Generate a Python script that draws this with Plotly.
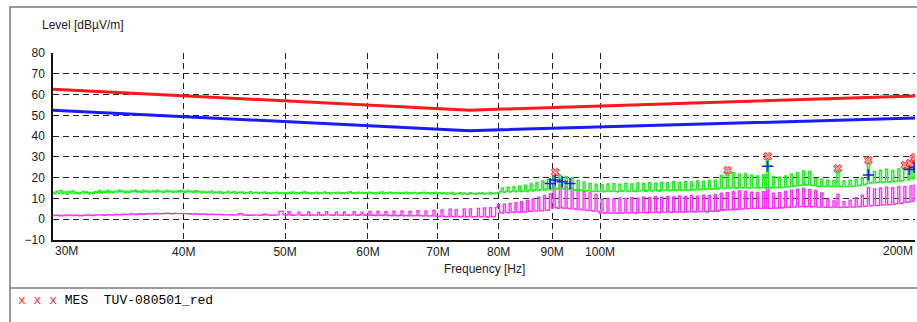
import numpy as np
import plotly.graph_objects as go

# ---------------- data ----------------
LIMIT_F = [30e6, 75e6, 200e6]
QP_LIMIT = [62.6, 52.5, 59.3]
AV_LIMIT = [52.5, 42.6, 48.7]

G_30_40 = [13.0,12.3,13.5,12.6,13.8,12.4,13.1,12.0,13.3,12.7,13.6,12.4,12.9,12.2,12.7,13.4,12.6,13.1,12.3,12.9,
           12.5,13.2,12.8,13.7,12.6,13.3,12.9,13.8,13.0,13.4,12.7,13.5,13.1,13.9,13.2,13.6,12.8,13.4,13.0,13.7,
           13.3,14.0,13.1,13.5,12.9,13.8,13.2,13.6,13.0,13.4,13.7,13.1,13.9,13.3,13.5,12.9,13.4,13.8,13.2,13.6,
           13.0,13.5,13.1,13.7,13.4]
G_40_50 = [13.6,13.0,13.8,13.2,13.5,12.9,13.7,13.1,13.4,12.8,13.3,12.7,13.2,12.9,13.5,12.6,13.1,12.8,13.4,12.5,
           13.0,12.7,13.3,12.6,12.9,13.2,12.5,13.0,12.7,13.1,12.4,12.9,12.6,13.2,12.5,12.8,13.0,12.4,12.9,12.6,
           13.1,12.5,12.8,12.3,12.9,12.6,13.0,12.4,12.8,12.6]
G_50_60 = [12.7,12.3,12.9,12.5,13.1,12.4,12.8,12.2,12.9,12.6,13.2,12.4,12.7,12.3,12.8,12.5,13.0,12.3,12.7,12.6,
           13.1,12.4,12.8,12.2,12.7,12.9,12.4,13.0,12.5,12.8,12.3,12.9,12.6,13.2,12.5,12.8,12.4,13.0,12.6,12.9,
           12.5,12.8]
G_60_70 = [12.6,13.0,12.4,12.8,12.2,12.9,12.5,13.1,12.3,12.7,12.6,13.0,12.4,12.8,12.5,12.9,12.2,12.7,12.5,13.0,
           12.3,12.8,12.4,12.9,12.6,12.3,12.8,12.5,13.0,12.4,12.7,12.3,12.8,12.5,12.9]
G_70_80 = [12.4,12.8,12.2,12.7,12.1,12.6,12.3,12.9,12.0,12.5,12.2,12.8,12.1,12.6,12.3,12.0,12.7,12.2,12.5,12.0,
           12.6,12.3,12.8,12.1,12.5,12.2,12.9,12.3,12.6,12.4]
G_80_90 = [12.8,13.3,15.0,13.0,13.4,15.4,13.1,13.5,15.6,13.2,13.6,16.0,13.3,13.7,16.4,13.4,13.8,17.0,13.6,14.0,
           17.6,13.8,14.3,18.4,14.0,14.5,19.2,14.2]
G_90_100 = [14.6,20.8,14.4,15.0,21.2,14.8,14.5,20.6,14.6,14.3,19.8,14.2,14.0,18.6,13.9,13.8,17.8,13.7,13.6,17.2,
            13.5,13.4,16.8,13.4]
G_100_130 = [13.3,16.6,13.2,13.5,16.9,13.3,13.6,17.1,13.4,13.2,16.8,13.5,13.7,17.3,13.4,13.6,17.0,13.5,13.3,17.4,
             13.6,13.8,17.2,13.5,13.7,17.6,13.6,13.9,17.3,13.7,13.5,17.8,13.8,14.0,17.5,13.7,13.9,18.0,13.8,14.1,
             17.7,13.9,14.2,18.2,14.0,13.8,17.9,14.1,14.3,18.4,14.2,14.4,18.1,14.3,14.5,18.6,14.4,14.6,18.8,14.5]
G_130_160 = [15.0,21.0,15.2,14.8,21.8,15.1,15.3,22.4,15.0,14.9,21.6,15.2,15.4,22.0,15.1,15.0,21.2,15.3,15.2,20.8,
             15.0,15.1,21.4,15.2,28.0,15.3,15.0,20.6,15.2,15.1,20.2,15.3,15.4,20.8,15.5,15.6,21.6,15.8,16.0,22.4,
             16.2,16.4,23.2,16.5,16.6,23.0,16.4]
G_160_200 = [16.2,19.6,16.0,15.8,19.2,15.9,15.7,18.8,15.8,15.6,18.6,15.7,22.4,15.8,15.6,18.4,15.7,15.8,18.8,15.9,
             16.0,19.2,16.1,16.3,20.0,16.6,17.0,26.8,17.4,17.6,23.0,17.5,17.8,23.6,17.7,17.9,24.0,17.8,18.0,23.4,
             18.1,18.3,24.2,18.4,18.6,24.6,26.4,18.9,27.2,19.4,28.6]

M_30_40 = [1.8,1.9,1.7,1.8,2.0,1.8,1.9,1.7,1.9,2.0,1.8,2.0,2.1,1.9,2.2,2.0,2.3,2.1,2.4,2.2,2.5,2.3,2.6,2.4,2.7,
           2.5,2.8,2.6,2.7,2.9,2.6,2.8,2.7]
M_40_50 = [2.7,2.6,2.5,2.6,2.4,2.5,2.3,2.4,2.2,2.3,2.1,2.2,2.0,2.1,2.6,2.0,1.9,2.0,2.1,1.9,2.4,2.0,1.9,2.1,3.8]
M_50_60 = [2.1,2.0,3.6,2.0,1.9,2.0,2.1,3.4,2.0,1.9,2.0,2.0,3.5,1.9,2.0,2.1,2.0,3.3,2.0,1.9,2.0,3.6,2.1,2.0,1.9,
           2.0,3.4,2.0,2.1,1.9,3.5,2.0,1.9,2.0,2.1,3.6,2.0,1.9,2.0,3.4,2.0,1.9]
M_60_70 = [2.0,3.7,1.9,2.0,1.8,3.8,1.9,1.8,2.0,3.6,1.8,1.9,1.7,3.9,1.8,1.7,1.9,4.0,1.7,1.8,1.6,3.8,1.7,1.6,1.8,
           4.1,1.6,1.7,1.5,4.0,1.6,1.5,1.7,4.2,1.5]
M_70_80 = [1.5,1.3,4.5,1.4,1.2,1.3,4.8,1.3,1.2,4.6,1.3,1.2,1.3,5.0,1.2,1.3,4.9,1.2,1.1,1.3,5.2,1.2,1.3,5.4,1.2,
           1.1,5.6,1.2,1.3,5.8]
M_80_90 = [7.0,3.2,3.0,7.2,3.3,3.1,7.6,3.4,3.2,8.0,3.5,3.3,8.4,3.6,3.5,9.0,3.8,3.7,9.8,4.0,3.9,10.6,4.2,4.1,11.4,
           4.4,4.3,12.2]
M_90_100 = [5.4,16.0,5.6,5.3,16.4,5.5,5.2,15.6,5.3,5.0,15.0,5.0,4.8,14.2,4.7,4.5,13.4,4.4,4.2,12.6,4.1,3.9,12.0,3.8]
M_100_130 = [3.0,9.6,2.9,3.1,10.0,2.9,3.0,9.8,3.0,2.8,10.2,3.0,3.1,9.9,3.1,3.0,10.4,3.1,2.9,10.1,3.2,3.2,10.6,3.2,
             3.0,10.3,3.3,3.3,10.8,3.3,3.1,10.5,3.4,3.4,11.0,3.4,3.2,10.7,3.5,3.5,11.2,3.5,3.3,10.9,3.6,3.6,11.4,
             3.6,3.4,11.1,3.7,3.7,11.6,3.7,3.5,11.3,3.8,3.8,11.8,3.8]
M_130_160 = [4.2,12.4,4.3,4.4,12.8,4.5,4.6,13.2,4.7,4.8,13.6,4.9,5.0,13.4,5.1,5.2,13.0,5.2,5.3,12.6,5.2,5.3,13.2,
             5.3,16.8,5.3,5.2,12.4,5.3,5.4,12.8,5.4,5.5,13.4,5.6,5.7,14.0,5.8,5.9,14.4,6.0,6.1,14.8,6.0,6.1,14.2,5.9]
M_160_200 = [6.0,13.8,5.9,5.8,12.6,5.8,5.7,9.6,5.7,5.6,8.8,5.7,12.0,5.6,5.7,8.4,5.7,5.8,9.2,5.8,5.9,10.4,6.0,6.1,
             11.6,6.2,6.3,15.2,6.4,6.5,14.6,6.6,6.7,15.0,6.8,6.9,15.4,7.0,7.1,15.2,7.3,7.5,15.6,7.7,7.9,15.8,8.1,
             8.3,16.0,8.6,16.4]

BANDS = [30e6, 40e6, 50e6, 60e6, 70e6, 80e6, 90e6, 100e6, 130e6, 160e6, 200e6]
GREEN_SEGS = [G_30_40, G_40_50, G_50_60, G_60_70, G_70_80, G_80_90, G_90_100, G_100_130, G_130_160, G_160_200]
MAG_SEGS = [M_30_40, M_40_50, M_50_60, M_60_70, M_70_80, M_80_90, M_90_100, M_100_130, M_130_160, M_160_200]

MES_F = [90.6e6, 132.4e6, 144.6e6, 168.7e6, 180.5e6, 195.6e6, 197.8e6, 199.5e6, 200.0e6]
MES_V = [22.6, 23.6, 30.3, 24.4, 28.4, 26.0, 27.0, 29.2, 29.8]
AV_F = [89.6e6, 90.6e6, 92.0e6, 93.6e6, 144.6e6, 180.5e6, 197.5e6, 199.6e6]
AV_V = [17.2, 18.9, 18.0, 17.2, 25.5, 21.3, 24.0, 25.0]

X_TICKS = [40e6, 50e6, 60e6, 70e6, 80e6, 90e6, 100e6]
X_TICKTEXT = ["40M", "50M", "60M", "70M", "80M", "90M", "100M"]
Y_TICKS = [-10, 0, 10, 20, 30, 40, 50, 60, 70, 80]


def build(segs):
    xs, ys = [], []
    for k, vals in enumerate(segs):
        last = (k == len(segs) - 1)
        f = np.geomspace(BANDS[k], BANDS[k + 1], len(vals), endpoint=last)
        xs.extend(f.tolist())
        ys.extend(vals)
    return xs, ys


gx, gy = build(GREEN_SEGS)
mx, my = build(MAG_SEGS)

SANS = "Liberation Sans, Arial, sans-serif"
MONO = "Liberation Mono, Courier New, monospace"

fig = go.Figure()
fig.add_trace(go.Scatter(x=mx, y=my, mode="lines", line=dict(color="#ff30ff", width=1.4, shape="hvh"),
                         showlegend=False))
fig.add_trace(go.Scatter(x=gx, y=gy, mode="lines", line=dict(color="#22ee22", width=1.5, shape="hvh"),
                         showlegend=False))
fig.add_trace(go.Scatter(x=LIMIT_F, y=QP_LIMIT, mode="lines", line=dict(color="#ff1a1a", width=3), showlegend=False))
fig.add_trace(go.Scatter(x=LIMIT_F, y=AV_LIMIT, mode="lines", line=dict(color="#1a1aff", width=3), showlegend=False))
fig.add_trace(go.Scatter(x=AV_F, y=AV_V, mode="markers",
                         marker=dict(symbol="cross-thin-open", size=8, color="#1a1aff",
                                     line=dict(color="#1a1aff", width=1.6)),
                         showlegend=False))
fig.add_trace(go.Scatter(x=MES_F, y=MES_V, mode="markers",
                         marker=dict(symbol="x", size=7, color="#ff9a9a", line=dict(color="#ff2020", width=1)),
                         showlegend=False))

fig.update_layout(
    width=917, height=322,
    margin=dict(l=53, r=2, t=53, b=82),
    paper_bgcolor="white", plot_bgcolor="white",
    font=dict(family=SANS, size=12, color="#1a1a1a"),
    xaxis=dict(type="log", range=[np.log10(30e6), np.log10(200e6)],
               tickvals=X_TICKS, ticktext=X_TICKTEXT, ticks="",
               showgrid=True, gridcolor="#222", gridwidth=1, griddash="6px,4px",
               showline=True, linecolor="#111", linewidth=1.5, zeroline=False,
               tickfont=dict(family=SANS, size=12, color="#1a1a1a")),
    yaxis=dict(range=[-10, 80], tickvals=Y_TICKS, ticks="",
               showgrid=True, gridcolor="#222", gridwidth=1, griddash="6px,4px",
               showline=True, linecolor="#111", linewidth=1.5, zeroline=False,
               ticklabelstandoff=4,
               tickfont=dict(family=SANS, size=12, color="#1a1a1a")),
)

# outer frame and separator
fig.add_shape(type="rect", xref="paper", yref="paper", x0=-0.0499, x1=1.2, y0=-1.0, y1=1.246,
              line=dict(color="#7a7a7a", width=1.5), fillcolor="rgba(0,0,0,0)", layer="below")
fig.add_shape(type="line", xref="paper", yref="paper", x0=-0.0499, x1=1.2, y0=-0.2567, y1=-0.2567,
              line=dict(color="#7a7a7a", width=1.5))

# end tick labels
fig.add_annotation(x=np.log10(30e6), xref="x", y=-0.0588, yref="paper", text="30M", showarrow=False,
                   xanchor="left", yanchor="middle", font=dict(family=SANS, size=12, color="#1a1a1a"))
fig.add_annotation(x=np.log10(200e6), xref="x", y=-0.0588, yref="paper", text="200M", showarrow=False,
                   xanchor="right", yanchor="middle", font=dict(family=SANS, size=12, color="#1a1a1a"))

# axis titles
fig.add_annotation(x=-0.0151, xref="paper", y=1.1497, yref="paper", text="Level [dBµV/m]", showarrow=False,
                   xanchor="left", yanchor="middle", font=dict(family=SANS, size=12, color="#1a1a1a"))
fig.add_annotation(x=0.5, xref="paper", y=-0.155, yref="paper", text="Frequency [Hz]", showarrow=False,
                   xanchor="center", yanchor="middle", font=dict(family=SANS, size=12, color="#1a1a1a"))

# legend line
fig.add_annotation(x=-0.0425, xref="paper", y=-0.3209, yref="paper",
                   text="<span style='color:#ff3030'>x\u00a0x\u00a0x\u00a0</span>MES\u00a0\u00a0TUV-080501_red",
                   showarrow=False, xanchor="left", yanchor="middle",
                   font=dict(family=MONO, size=13, color="#000000"))

fig.write_html("out.html")
